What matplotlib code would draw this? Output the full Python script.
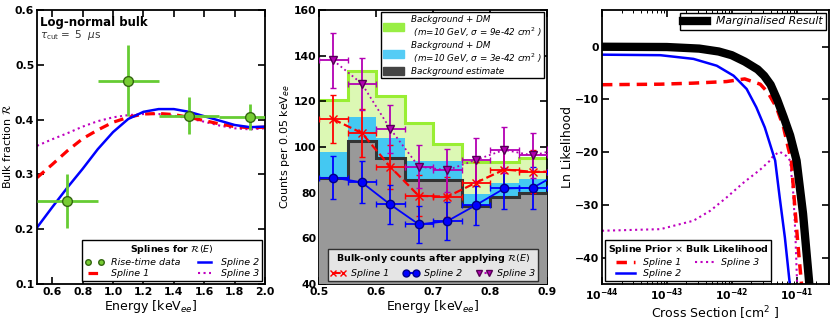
import numpy as np
import matplotlib
matplotlib.use("Agg")
import matplotlib.pyplot as plt
from matplotlib.patches import Patch
from matplotlib.lines import Line2D

# ---- panel 1: bulk fraction splines ----
e_rise = [0.7, 1.1, 1.5, 1.9]
r_rise = [0.251, 0.471, 0.407, 0.405]
r_rise_err = [0.049, 0.064, 0.034, 0.024]
e_rise_err = [0.2, 0.2, 0.2, 0.2]

e_spl = [0.5, 0.6, 0.7, 0.8, 0.9, 1.0, 1.1, 1.2, 1.3, 1.4, 1.5, 1.6, 1.7, 1.8, 1.9, 2.0]
spl1 = [0.294, 0.318, 0.343, 0.365, 0.381, 0.395, 0.404, 0.410, 0.411, 0.409, 0.404, 0.398, 0.392, 0.387, 0.385, 0.386]
spl2 = [0.203, 0.240, 0.276, 0.310, 0.346, 0.377, 0.401, 0.414, 0.419, 0.419, 0.414, 0.406, 0.398, 0.390, 0.386, 0.387]
spl3 = [0.352, 0.364, 0.375, 0.387, 0.397, 0.404, 0.408, 0.410, 0.410, 0.407, 0.402, 0.396, 0.389, 0.384, 0.382, 0.384]

# ---- panel 2: counts ----
edges = [0.5, 0.55, 0.6, 0.65, 0.7, 0.75, 0.8, 0.85, 0.9]
bg_dm9 = [120.4, 133.2, 122.3, 110.3, 101.1, 93.5, 93.5, 95.0]
bg_dm3 = [97.8, 113.1, 104.1, 93.8, 93.8, 79.5, 84.0, 86.0]
bg_est = [86.2, 102.6, 95.0, 85.7, 85.7, 74.0, 78.0, 80.0]

e_bins = [0.525, 0.575, 0.625, 0.675, 0.725, 0.775, 0.825, 0.875, 0.925]
cnt1 = [112.1, 106.1, 91.3, 78.6, 78.2, 84.3, 90.1, 89.1, 89.2]
cnt2 = [86.6, 84.5, 74.8, 66.1, 67.5, 74.5, 81.8, 82.1, 89.0]
cnt3 = [137.9, 127.7, 107.9, 91.4, 89.8, 94.3, 98.7, 96.3, 99.3]
err1 = [10.6, 10.3, 9.6, 8.9, 8.8, 9.2, 9.5, 9.4, 9.4]
err2 = [9.3, 9.2, 8.6, 8.1, 8.2, 8.6, 9.0, 9.1, 9.4]
err3 = [12.0, 11.4, 10.4, 9.6, 9.5, 9.7, 9.9, 9.8, 10.0]

# ---- panel 3: likelihoods (log10 of cross section) ----
ls_marg = [-44.0, -43.0, -42.5, -42.2, -42.0, -41.8, -41.6, -41.5, -41.4, -41.3, -41.2, -41.1, -41.0, -40.9, -40.8]
ll_marg = [0.0, -0.05, -0.35, -0.9, -1.6, -2.8, -4.3, -5.5, -7.2, -10.0, -13.3, -16.8, -21.6, -31.7, -45.5]
ls_s1 = [-44.0, -43.1, -42.59, -42.08, -41.8, -41.56, -41.44, -41.31, -41.2, -41.13, -41.08, -41.03, -40.98, -40.92]
ll_s1 = [-7.2, -7.1, -6.9, -6.6, -6.1, -7.1, -8.7, -11.5, -15.3, -19.1, -21.6, -29.9, -37.4, -45.5]
ls_s2 = [-44.0, -43.1, -42.59, -42.23, -41.97, -41.77, -41.62, -41.49, -41.36, -41.33, -41.26, -41.18, -41.10]
ll_s2 = [-1.5, -1.6, -2.3, -3.6, -5.5, -8.0, -11.5, -15.3, -20.4, -21.6, -28.6, -36.2, -45.5]
ls_s3 = [-44.0, -43.1, -42.59, -42.33, -42.08, -41.82, -41.56, -41.41, -41.36, -41.26, -41.16, -41.10, -41.05, -41.02, -40.99]
ll_s3 = [-34.9, -34.6, -33.0, -31.1, -28.6, -25.8, -23.3, -21.6, -20.7, -19.9, -20.7, -21.6, -27.9, -35.0, -45.5]

RED = 'red'
BLUE = 'blue'
MAG = '#b300b3'
TICK_FS = 7.8
LAB_FS = 9
LEG_FS = 6.8

fig = plt.figure(figsize=(8.34, 3.21), dpi=100)
ax1 = fig.add_axes([0.0444, 0.1153, 0.2734, 0.854])
ax2 = fig.add_axes([0.3825, 0.1153, 0.2734, 0.854])
ax3 = fig.add_axes([0.7218, 0.1153, 0.2722, 0.854])


def style(ax):
    ax.tick_params(which='major', direction='in', top=True, right=True,
                   length=5, width=1.2, labelsize=TICK_FS, pad=2)
    ax.tick_params(which='minor', direction='in', top=True, right=True,
                   length=2.5, width=0.7)
    for s in ax.spines.values():
        s.set_linewidth(1.3)


def bold_ticks(ax, xfmt, yfmt):
    ax.set_xticklabels([xfmt(v) for v in ax.get_xticks()], fontweight='bold')
    ax.set_yticklabels([yfmt(v) for v in ax.get_yticks()], fontweight='bold')


def italic(leg):
    for t in leg.get_texts():
        t.set_fontstyle('italic')


# panel 1
ax1.plot(e_spl, spl3, ':', color='m', lw=1.5)
ax1.plot(e_spl, spl1, '--', color=RED, lw=2.3, dashes=(3, 2))
ax1.plot(e_spl, spl2, '-', color=BLUE, lw=1.8)
ax1.errorbar(e_rise, r_rise, xerr=e_rise_err, yerr=r_rise_err, fmt='o',
             color='#66cc33', mfc='#77cc33', mec='#336611', ms=7,
             elinewidth=2, capsize=0, zorder=5)
ax1.set_xlim(0.5, 2.0)
ax1.set_ylim(0.1, 0.6)
ax1.set_xticks([0.6, 0.8, 1.0, 1.2, 1.4, 1.6, 1.8, 2.0])
ax1.set_yticks([0.1, 0.2, 0.3, 0.4, 0.5, 0.6])
style(ax1)
bold_ticks(ax1, lambda v: f'{v:.1f}', lambda v: f'{v:.1f}')
ax1.set_xlabel(r'Energy [keV$_{ee}$]', fontsize=LAB_FS, labelpad=1)
ax1.set_ylabel(r'Bulk fraction $\mathcal{R}$', fontsize=8, labelpad=1)
ax1.text(0.015, 0.955, 'Log-normal bulk', transform=ax1.transAxes,
         fontsize=8.5, fontweight='bold', va='center')
ax1.text(0.015, 0.91, r'$\tau_{\rm cut} = \ 5\ \ \mu$s', transform=ax1.transAxes,
         fontsize=7.5, va='center', color='#333333')
h = [Line2D([], [], ls='none', marker='o', color='#77cc33', mec='#336611', ms=4),
     Line2D([], [], ls='--', color=RED, lw=2.3, dashes=(3, 2)),
     Line2D([], [], ls='-', color=BLUE, lw=1.8),
     Line2D([], [], ls=':', color='m', lw=1.5)]
lab = ['Rise-time data', 'Spline 1', 'Spline 2', 'Spline 3']
leg = ax1.legend(h, lab, loc='lower right', ncol=2, numpoints=2, fontsize=LEG_FS,
                 title=r'Splines for $\mathcal{R}(E)$', title_fontsize=LEG_FS,
                 handlelength=2.0, columnspacing=1.5, borderaxespad=0.3,
                 fancybox=False, edgecolor='black', framealpha=1,
                 labelspacing=0.25, handletextpad=0.8, borderpad=0.3)
leg.get_title().set_fontweight('bold')
leg.get_frame().set_linewidth(1.0)
italic(leg)

# panel 2
ax2.stairs(bg_dm9, edges, fill=True, color='#dcf8b4', baseline=0, zorder=1)
ax2.stairs(bg_dm9, edges, color='#99ee33', lw=2.2, baseline=None, zorder=1.5)
ax2.stairs(bg_dm3, edges, fill=True, color='#44c8f2', baseline=0, zorder=2)
ax2.stairs(bg_est, edges, fill=True, color='#999999', baseline=0, zorder=3)
ax2.stairs(bg_est, edges, color='#333333', lw=2.2, baseline=None, zorder=3.5)

ax2.errorbar(e_bins, cnt1, xerr=0.025, yerr=err1, fmt='x--', color=RED,
             ms=6, mew=1.0, lw=1.6, elinewidth=1.3, capsize=2, zorder=6)
ax2.errorbar(e_bins, cnt2, xerr=0.025, yerr=err2, fmt='o-', color=BLUE,
             mec='#000088', ms=6, lw=1.3, elinewidth=1.3, capsize=2, zorder=6)
ax2.errorbar(e_bins, cnt3, xerr=0.025, yerr=err3, fmt='v:', color=MAG,
             mec='#550055', ms=6, lw=1.3, elinewidth=1.3, capsize=2,
             ecolor=MAG, zorder=6)
ax2.set_xlim(0.5, 0.9)
ax2.set_ylim(40, 160)
ax2.set_xticks([0.5, 0.6, 0.7, 0.8, 0.9])
ax2.set_yticks([40, 60, 80, 100, 120, 140, 160])
style(ax2)
bold_ticks(ax2, lambda v: f'{v:.1f}', lambda v: f'{v:.0f}')
ax2.set_xlabel(r'Energy [keV$_{ee}$]', fontsize=LAB_FS, labelpad=1)
ax2.set_ylabel(r'Counts per 0.05 keV$_{ee}$', fontsize=8, labelpad=1)

hp = [Patch(color='#99ee44'), Patch(color='#55ccf5'), Patch(color='#444444')]
lp = ['Background + DM\n (m=10 GeV, $\\sigma$ = 9e-42 cm$^2$ )',
      'Background + DM\n (m=10 GeV, $\\sigma$ = 3e-42 cm$^2$ )',
      'Background estimate']
leg2a = ax2.legend(hp, lp, loc='upper right', fontsize=6.3, fancybox=False,
                   edgecolor='black', framealpha=1, borderaxespad=0.3,
                   labelspacing=0.2, handlelength=2.4, handleheight=1.0,
                   handletextpad=0.8, borderpad=0.25)
leg2a.get_frame().set_linewidth(1.0)
italic(leg2a)
ax2.add_artist(leg2a)

hb = [Line2D([], [], ls='--', marker='x', color=RED, ms=5),
      Line2D([], [], ls='-', marker='o', color=BLUE, mec='#000088', ms=5),
      Line2D([], [], ls=':', marker='v', color=MAG, mec='#550055', ms=5)]
leg2b = ax2.legend(hb, ['Spline 1', 'Spline 2', 'Spline 3'], loc='lower center',
                   ncol=3, numpoints=2, fontsize=LEG_FS,
                   title=r'Bulk-only counts after applying $\mathcal{R}(E)$',
                   title_fontsize=LEG_FS, fancybox=False, edgecolor='black',
                   facecolor='white', framealpha=0.75, borderaxespad=0.3,
                   handlelength=1.6, columnspacing=1.5, handletextpad=0.6,
                   borderpad=0.3)
leg2b.get_title().set_fontweight('bold')
leg2b.get_frame().set_linewidth(1.0)
italic(leg2b)

# panel 3
ax3.plot(10.0 ** np.array(ls_s3), ll_s3, ':', color='m', lw=1.5)
ax3.plot(10.0 ** np.array(ls_s2), ll_s2, '-', color=BLUE, lw=1.8)
ax3.plot(10.0 ** np.array(ls_s1), ll_s1, '--', color=RED, lw=2.5, dashes=(3, 2))
ax3.plot(10.0 ** np.array(ls_marg), ll_marg, '-', color='black', lw=6)
ax3.set_xscale('log')
ax3.set_xlim(1e-44, 10 ** -40.5)
ax3.set_ylim(-45, 7)
ax3.set_xticks([1e-44, 1e-43, 1e-42, 1e-41])
ax3.set_yticks([-40, -30, -20, -10, 0])
style(ax3)
ax3.set_xticklabels([r'$\mathbf{10^{-44}}$', r'$\mathbf{10^{-43}}$',
                     r'$\mathbf{10^{-42}}$', r'$\mathbf{10^{-41}}$'])
ax3.set_yticklabels(['\u221240', '\u221230', '\u221220', '\u221210', '0'],
                    fontweight='bold')
ax3.set_xlabel(r'Cross Section [cm$^2$ ]', fontsize=LAB_FS, labelpad=1)
ax3.set_ylabel('Ln Likelihood', fontsize=LAB_FS, labelpad=1)

hm = [Line2D([], [], color='black', lw=6)]
leg3a = ax3.legend(hm, ['Marginalised Result'], loc='upper right', fontsize=7.8,
                   fancybox=False, edgecolor='black', framealpha=1,
                   borderaxespad=0.3, handlelength=2.2, borderpad=0.3)
leg3a.get_frame().set_linewidth(1.0)
italic(leg3a)
ax3.add_artist(leg3a)

hs = [Line2D([], [], ls='--', color=RED, lw=2.5, dashes=(3, 2)),
      Line2D([], [], ls='-', color=BLUE, lw=1.8),
      Line2D([], [], ls=':', color='m', lw=1.5)]
leg3b = ax3.legend(hs, ['Spline 1', 'Spline 2', 'Spline 3'], loc='lower left',
                   ncol=2, fontsize=LEG_FS, title=r'Spline Prior $\times$ Bulk Likelihood',
                   title_fontsize=LEG_FS, fancybox=False, edgecolor='black',
                   framealpha=1, borderaxespad=0.3, handlelength=2.0,
                   columnspacing=1.5, labelspacing=0.25, borderpad=0.3)
leg3b.get_title().set_fontweight('bold')
leg3b.get_frame().set_linewidth(1.0)
italic(leg3b)

fig.savefig('out.png', dpi=100)
